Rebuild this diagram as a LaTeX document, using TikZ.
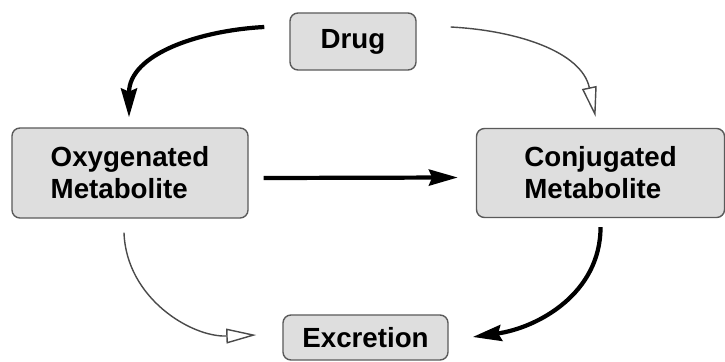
\documentclass[tikz,border=0pt]{standalone}
\usepackage{fontspec}
\setmainfont{Liberation Sans}
\usepackage{tikz}
\usetikzlibrary{arrows.meta,positioning}
\definecolor{boxfill}{HTML}{DEDEDE}
\definecolor{boxline}{HTML}{5A5A5A}
\definecolor{thinline}{HTML}{4A4A4A}
\tikzset{
  stagebox/.style={
    rectangle, rounded corners=0.2cm, draw=boxline, fill=boxfill, line width=1pt,
    font=\fontsize{19.7}{22.8}\selectfont\bfseries, align=left,
    inner sep=2pt
  },
  mainflow/.style={
    -{Stealth[length=0.72cm, width=0.4cm, inset=0.08cm]}, line width=3pt, color=black
  },
  minorflow/.style={
    -{Triangle[open, length=0.75cm, width=0.37cm]}, line width=1pt, color=thinline
  },
}
\begin{document}
\begin{tikzpicture}[x=0.025cm, y=0.025cm]
\useasboundingbox (0,0) rectangle (725,-362);
% Stages
\node[stagebox, minimum width=3.15cm, minimum height=1.425cm] (drug) at (353,-41.5) {Drug};
\node[stagebox, minimum width=5.9cm, minimum height=2.25cm] (oxy-met) at (130,-173) {Oxygenated\\Metabolite};
\node[stagebox, minimum width=6.2cm, minimum height=2.225cm, right=5.675cm of oxy-met] (conj-met) {Conjugated\\Metabolite};
\node[stagebox, minimum width=4.125cm, minimum height=1.125cm] (excr) at (365.5,-337.5) {Excretion};

% Arrows
\draw[mainflow] ([shift={(-25,14.5)}]drug.west) to[out=183, in=90] ([shift={(-1,10)}]oxy-met.north);
\draw[minorflow] ([shift={(34,14.5)}]drug.east) to[out=-3, in=102] ([shift={(-5,11)}]conj-met.north);
\draw[mainflow] ([shift={(15,-5)}]oxy-met.east) -- ([shift={(-18,-4.5)}]conj-met.west);
\draw[minorflow] ([shift={(-6,-14)}]oxy-met.south) to[out=-88, in=182] ([shift={(-26,2.5)}]excr.west);
\draw[mainflow] ([shift={(0,-9)}]conj-met.south) to[out=-90, in=8] ([shift={(24,0.5)}]excr.east);
\end{tikzpicture}
\end{document}
